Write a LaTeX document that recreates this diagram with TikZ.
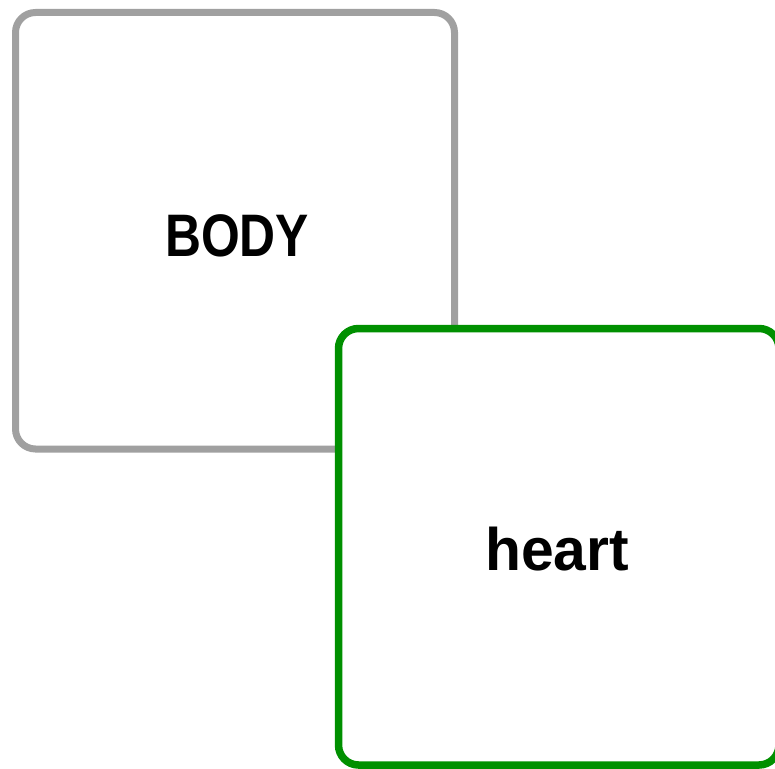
\documentclass[tikz,border=0pt]{standalone}
\usepackage{fontspec}
\usepackage{graphicx}
\setmainfont{Liberation Sans}
\definecolor{boxgray}{HTML}{A0A0A0}
\definecolor{boxgreen}{HTML}{009000}
\tikzset{
  roundbox/.style={rounded corners=20pt, fill=white},
  lbl/.style={font=\fontsize{60}{72}\selectfont\bfseries, inner sep=0pt, anchor=base}
}
\begin{document}
\begin{tikzpicture}[x=1pt,y=-1pt]
\useasboundingbox (0,0) rectangle (775,768);
\draw[roundbox, draw=boxgray, line width=7pt] (15.5,12.5) rectangle (454.5,449);
\node[lbl] (body) at (237,256) {\scalebox{0.83}[1]{BODY}};
\draw[roundbox, draw=boxgreen, line width=7.5pt] (338.5,328.5) rectangle (779,765);
\node[lbl] (heart) at (557,570) {\scalebox{0.98}[1]{heart}};
\end{tikzpicture}
\end{document}
